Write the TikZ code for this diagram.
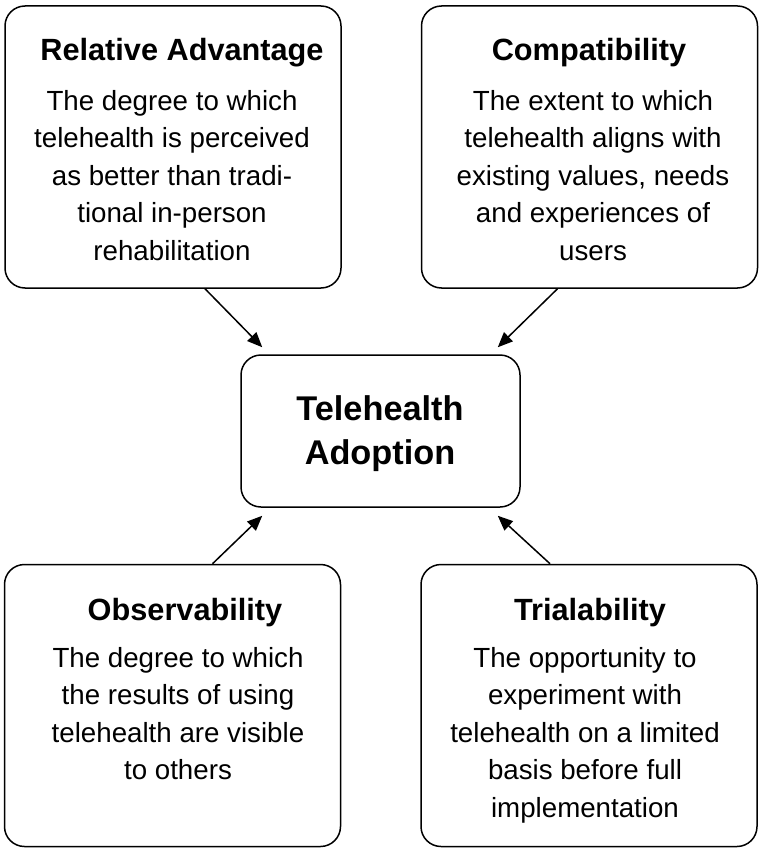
\documentclass[tikz,border=0pt]{standalone}
\usepackage{fontspec}
\setmainfont{Liberation Sans}
\usetikzlibrary{arrows.meta,calc}
\begin{document}
\begin{tikzpicture}[x=1pt,y=-1pt,
  card/.style={draw, line width=1.5pt, rounded corners=20pt, inner sep=0pt,
    minimum width=336pt, minimum height=282pt},
  hub/.style={draw, line width=1.5pt, rounded corners=20pt, inner sep=0pt,
    minimum width=279pt, minimum height=152pt},
  title/.style={font=\fontsize{30.7}{36}\selectfont\bfseries, anchor=base, inner sep=0pt},
  body/.style={font=\fontsize{27.7}{37.5}\selectfont, align=center, anchor=north, inner sep=0pt},
  hubtext/.style={font=\fontsize{34.3}{44}\selectfont\bfseries, align=center, anchor=north, inner sep=0pt},
  link/.style={line width=1.5pt, -{Triangle[length=15pt,width=12.5pt]}}]
\useasboundingbox (0,0) rectangle (764,853);

% the four attribute cards and the central box
\node[card] (ra) at (173,147) {};
\node[card] (co) at (589.5,147) {};
\node[card] (ob) at (172.5,705.5) {};
\node[card] (tr) at (589,705.5) {};
\node[hub] (ad) at (380.5,431) {};

% card texts
\node[title] (ra-t) at (182,61) {Relative Advantage};
\node[body] (ra-b) at (172,83.75) {\strut The degree to which\\telehealth is perceived\\as better than tradi-\\tional in-person\\rehabilitation};

\node[title] (co-t) at (589,61) {Compatibility};
\node[body] (co-b) at (593,83.75) {\strut The extent to which\\telehealth aligns with\\existing values, needs\\and experiences of\\users};

\node[title] (ob-t) at (185,620) {Observability};
\node[body] (ob-b) at (178,640.75) {\strut The degree to which\\the results of using\\telehealth are visible\\to others};

\node[title] (tr-t) at (590,620) {Trialability};
\node[body] (tr-b) at (585,640.75) {\strut The opportunity to\\experiment with\\telehealth on a limited\\basis before full\\implementation};

\node[hubtext] (ad-t) at (380,389.2) {\strut Telehealth\\Adoption};

% arrow tips stop just short of the central box
\coordinate (tip-ra) at ([xshift=22pt,yshift=7pt]ad.north west);
\coordinate (tip-co) at ([xshift=-23pt,yshift=7pt]ad.north east);
\coordinate (tip-ob) at ([xshift=22pt,yshift=-8pt]ad.south west);
\coordinate (tip-tr) at ([xshift=-23pt,yshift=-8pt]ad.south east);

\draw[link] ([xshift=32pt]ra.south) -- (tip-ra);
\draw[link] ([xshift=-32pt]co.south) -- (tip-co);
\draw[link] ([xshift=40pt]ob.north) -- (tip-ob);
\draw[link] ([xshift=-39pt]tr.north) -- (tip-tr);
\end{tikzpicture}
\end{document}
